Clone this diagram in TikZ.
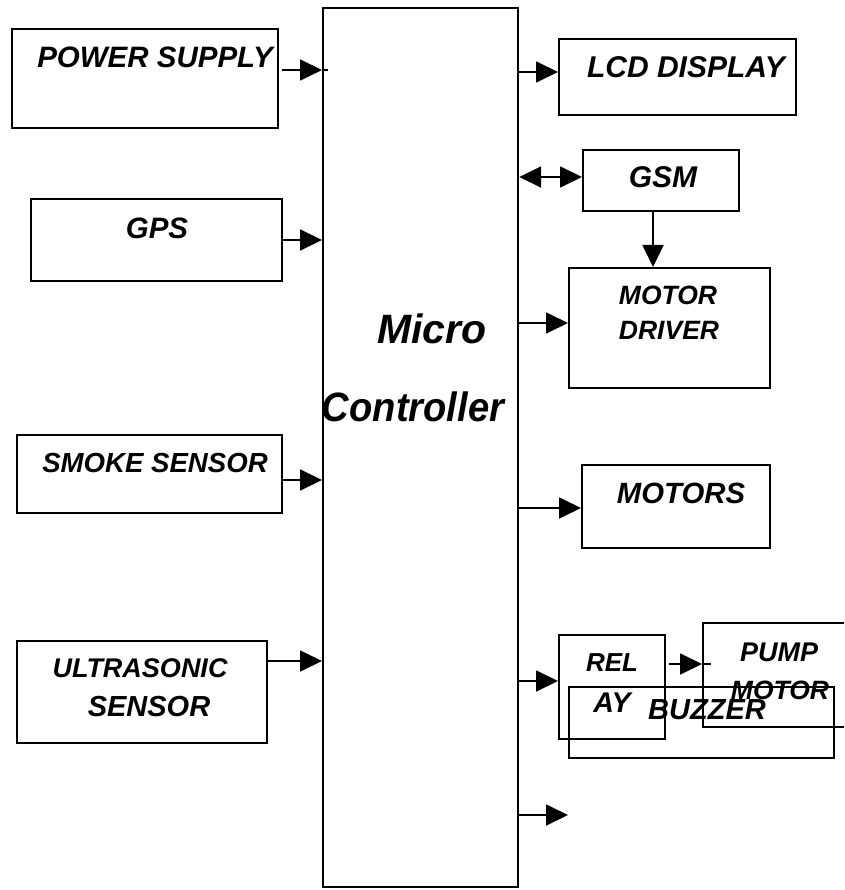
\documentclass[tikz,border=0pt]{standalone}
\usepackage{fontspec}
\setmainfont{Liberation Sans}
\usetikzlibrary{arrows.meta}
\tikzset{
  box/.style={draw, line width=1.8pt, rectangle, anchor=north west, inner sep=0pt},
  lbl/.style={font=\fontsize{#1}{#1}\selectfont\bfseries\itshape, inner sep=0pt},
  lbl/.default=28,
  big/.style={font=\fontsize{41}{41}\selectfont\bfseries\itshape, inner sep=0pt},
  conn/.style={line width=1.8pt},
  arr/.style={conn, -{Triangle[length=22pt,width=21pt]}},
  darr/.style={conn, {Triangle[length=22pt,width=21pt]}-{Triangle[length=22pt,width=21pt]}}
}
\begin{document}
\begin{tikzpicture}[x=1pt,y=-1pt]
\clip (0,0) rectangle (844,890);
\fill[white] (0,0) rectangle (844,890);
% boxes
\node[box, minimum width=266pt, minimum height=99pt] (ps) at (11,28) {};
\node[box, minimum width=251pt, minimum height=82pt] (gps) at (30,198) {};
\node[box, minimum width=265pt, minimum height=78pt] (smoke) at (16,434) {};
\node[box, minimum width=250pt, minimum height=102pt] (ultra) at (16,640) {};
\node[box, line width=2.2pt, minimum width=195pt, minimum height=879pt] (mc) at (322,7) {};
\node[box, minimum width=237pt, minimum height=76pt] (lcd) at (558,38) {};
\node[box, minimum width=156pt, minimum height=61pt] (gsm) at (582,149) {};
\node[box, minimum width=201pt, minimum height=120pt] (md) at (568,267) {};
\node[box, minimum width=188pt, minimum height=83pt] (motors) at (581,464) {};
\node[box, minimum width=106pt, minimum height=104pt] (relay) at (558,634) {};
\node[box, minimum width=154pt, minimum height=104pt] (pump) at (702,622) {};
\node[box, minimum width=265pt, minimum height=71pt] (buzzer) at (568,686) {};
% labels
\node[lbl=29.5] (pst) at (155,57) {POWER SUPPLY};
\node[lbl=29.5] (gpst) at (157,228) {GPS};
\node[lbl=27.6] (smoket) at (155,463) {SMOKE SENSOR};
\node[lbl=27] (ultrat1) at (140,668) {ULTRASONIC};
\node[lbl=29] (ultrat2) at (149,707) {SENSOR};
\node[big] (mct1) at (432,329) {Micro};
\node[big, xscale=0.93] (mct2) at (413,407) {Controller};
\node[lbl=30] (lcdt) at (686,67) {LCD DISPLAY};
\node[lbl=30] (gsmt) at (663,177) {GSM};
\node[lbl=26.5] (mdt1) at (668,295) {MOTOR};
\node[lbl=26.5] (mdt2) at (669,330) {DRIVER};
\node[lbl=29.3] (motorst) at (681,493) {MOTORS};
\node[lbl=26] (relayt1) at (612,663) {REL};
\node[lbl=28.5] (relayt2) at (612,703) {AY};
\node[lbl=27] (pumpt1) at (779,652) {PUMP};
\node[lbl=26.5] (pumpt2) at (780,690) {MOTOR};
\node[lbl=29] (buzzert) at (707,710) {BUZZER};
% connectors
\coordinate (psA) at (282,70);
\coordinate (psB) at (328,70);
\draw[arr] (psA) -- (mc.west |- psA);
\draw[conn] (mc.west |- psA) -- (psB);
\draw[arr] (gps.east |- 0,240) -- (mc.west |- 0,240);
\draw[arr] (smoke.east |- 0,480) -- (mc.west |- 0,480);
\draw[arr] (ultra.east |- 0,661) -- (mc.west |- 0,661);
\draw[arr] (mc.east |- 0,72) -- (lcd.west |- 0,72);
\draw[darr] (mc.east |- 0,177) -- (gsm.west |- 0,177);
\draw[arr] (gsm.south -| 653,0) -- (md.north -| 653,0);
\draw[arr] (mc.east |- 0,323) -- (md.west |- 0,323);
\draw[arr] (mc.east |- 0,508) -- (motors.west |- 0,508);
\draw[arr] (mc.east |- 0,681) -- (relay.west |- 0,681);
\coordinate (rpA) at (669,664);
\coordinate (rpB) at (711,664);
\draw[arr] (rpA) -- (pump.west |- rpA);
\draw[conn] (pump.west |- rpA) -- (rpB);
\coordinate (outEnd) at (568,815);
\draw[arr] (mc.east |- outEnd) -- (outEnd);
\end{tikzpicture}
\end{document}
